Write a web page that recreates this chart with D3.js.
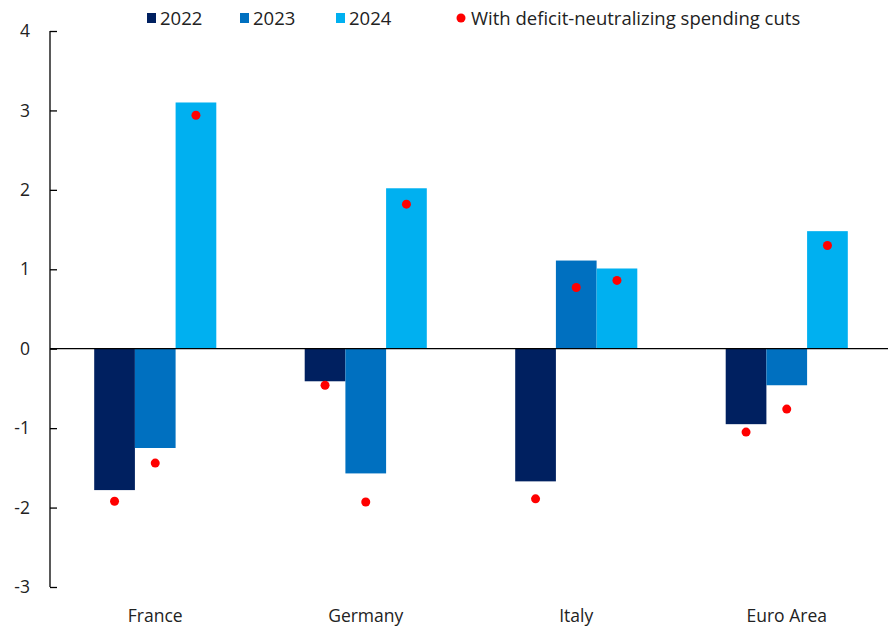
<!DOCTYPE html>
<html>
<head>
<meta charset="utf-8">
<script src="https://cdn.jsdelivr.net/npm/d3@7"></script>
<style>
  body { margin: 0; background: #fff; }
  text { font-family: "Open Sans", "Noto Sans", sans-serif; fill: #222; }
</style>
</head>
<body>
<div id="chart"></div>
<script>
// donnees
const countries = ["France", "Germany", "Italy", "Euro Area"];
const years = ["2022", "2023", "2024"];
const values2022 = [-1.78, -0.41, -1.67, -0.95];
const values2023 = [-1.25, -1.57, 1.11, -0.46];
const values2024 = [3.10, 2.02, 1.01, 1.48];
const cuts2022 = [-1.92, -0.46, -1.89, -1.05];
const cuts2023 = [-1.44, -1.93, 0.77, -0.76];
const cuts2024 = [2.94, 1.82, 0.86, 1.30];
const yTicks = [-3, -2, -1, 0, 1, 2, 3, 4];
const colors = ["#002060", "#0070C0", "#00B0F0"];

const width = 888, height = 630;
const margin = { top: 31, right: -4, bottom: 43, left: 50 };
const fontSize = "17.5px";

const svg = d3.select("#chart").append("svg")
  .attr("width", width)
  .attr("height", height);

const series = [values2022, values2023, values2024];
const cuts = [cuts2022, cuts2023, cuts2024];

const rows = [];
countries.forEach((c, i) => {
  years.forEach((y, j) => {
    rows.push({ country: c, year: y, value: series[j][i], cut: cuts[j][i] });
  });
});

const x0 = d3.scaleBand()
  .domain(countries)
  .range([margin.left, width - margin.right])
  .paddingInner(0.42)
  .paddingOuter(0.21);

const x1 = d3.scaleBand()
  .domain(years)
  .range([0, x0.bandwidth()]);

const y = d3.scaleLinear()
  .domain([-3, 4])
  .range([height - margin.bottom, margin.top]);

const color = d3.scaleOrdinal().domain(years).range(colors);

// barres
svg.append("g")
  .selectAll("rect")
  .data(rows)
  .join("rect")
  .attr("x", d => x0(d.country) + x1(d.year))
  .attr("width", x1.bandwidth())
  .attr("y", d => y(Math.max(0, d.value)))
  .attr("height", d => Math.abs(y(d.value) - y(0)))
  .attr("fill", d => color(d.year));

// axe y
const yAxis = svg.append("g")
  .attr("transform", `translate(${margin.left},0)`)
  .call(d3.axisRight(y).tickValues(yTicks).tickSize(7).tickFormat(d3.format("d")));
yAxis.select(".domain").attr("d", `M0,${y(4)}V${y(-3)}`).attr("stroke", "#000").attr("stroke-width", 1.3);
yAxis.selectAll(".tick line").attr("stroke", "#000").attr("stroke-width", 1.3);
yAxis.selectAll(".tick text")
  .attr("x", -20)
  .attr("text-anchor", "end")
  .style("font-size", fontSize)
  .text(d => d < 0 ? "-" + Math.abs(d) : d);

// ligne du zero
svg.append("line")
  .attr("x1", margin.left)
  .attr("x2", 888)
  .attr("y1", y(0))
  .attr("y2", y(0))
  .attr("stroke", "#000")
  .attr("stroke-width", 1.3);

// points rouges
svg.append("g")
  .selectAll("circle")
  .data(rows)
  .join("circle")
  .attr("cx", d => x0(d.country) + x1(d.year) + x1.bandwidth() / 2)
  .attr("cy", d => y(d.cut))
  .attr("r", 4.5)
  .attr("fill", "#FF0000");

// etiquettes pays
svg.append("g")
  .selectAll("text")
  .data(countries)
  .join("text")
  .attr("x", d => x0(d) + x0.bandwidth() / 2)
  .attr("y", 622)
  .attr("text-anchor", "middle")
  .style("font-size", fontSize)
  .text(d => d);

// legende
const legendItems = [
  { label: "2022", x: 147, type: "rect", color: colors[0] },
  { label: "2023", x: 240, type: "rect", color: colors[1] },
  { label: "2024", x: 336, type: "rect", color: colors[2] },
  { label: "With deficit-neutralizing spending cuts", x: 457, type: "dot", color: "#FF0000" }
];
const legend = svg.append("g");
legendItems.forEach(it => {
  const g = legend.append("g").attr("transform", `translate(${it.x},18)`);
  if (it.type === "rect") {
    g.append("rect").attr("x", 0).attr("y", -5).attr("width", 9).attr("height", 10).attr("fill", it.color);
    g.append("text").attr("x", 13).attr("y", 6.5).style("font-size", "18.5px").text(it.label);
  } else {
    g.append("circle").attr("cx", 4).attr("cy", 0).attr("r", 4.5).attr("fill", it.color);
    g.append("text").attr("x", 14).attr("y", 6.5).style("font-size", "18.5px").text(it.label);
  }
});
</script>
</body>
</html>
